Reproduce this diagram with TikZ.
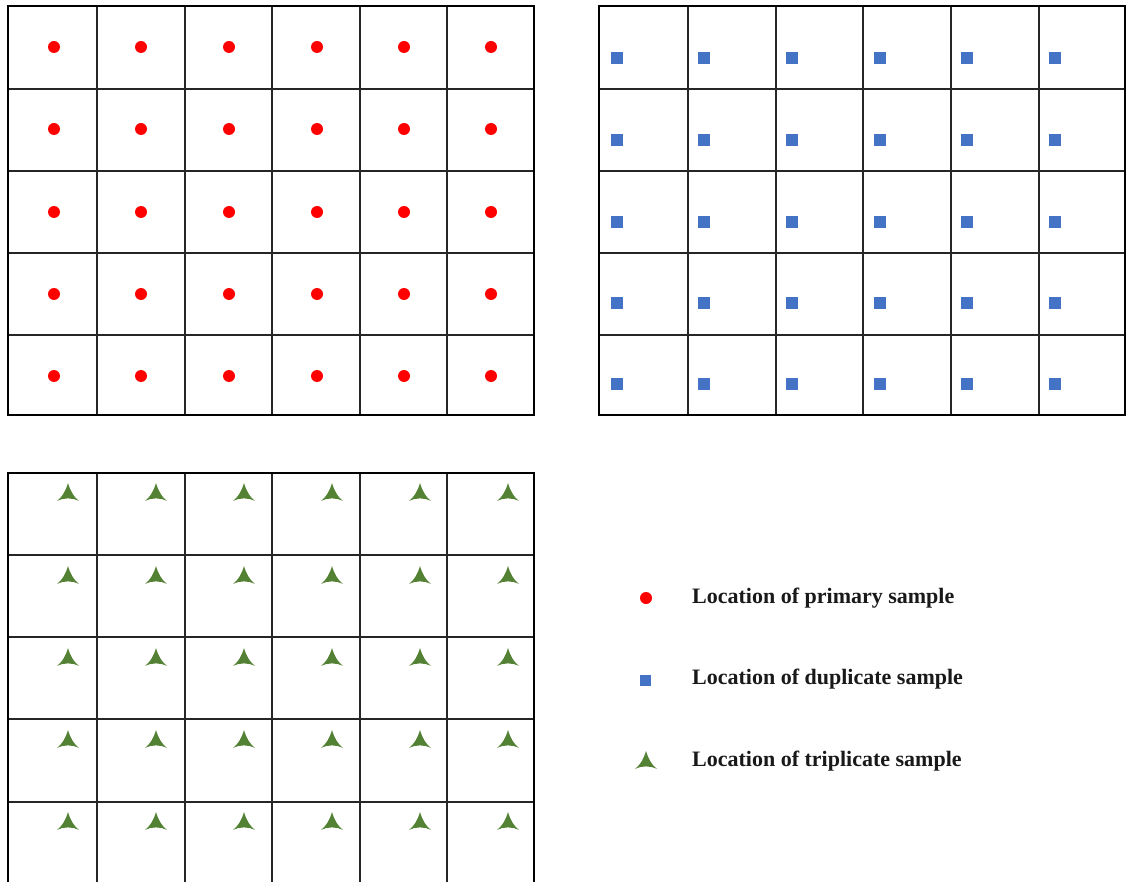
\documentclass[tikz,border=0pt]{standalone}
\usepackage{fontspec}
\setmainfont{Liberation Serif}
\definecolor{dotred}{RGB}{255,0,0}
\definecolor{sqblue}{RGB}{68,114,196}
\definecolor{trigreen}{RGB}{84,130,53}
\begin{document}
\begin{tikzpicture}[x=1pt,y=-1pt,
  inner/.style={line width=1.1pt,black!85},
  outer/.style={line width=2.4pt,black},
  primdot/.style={fill=dotred},
  dupsq/.style={fill=sqblue},
  tripstar/.style={fill=trigreen},
  legtext/.style={anchor=west,font=\bfseries\fontsize{22}{26}\selectfont,text=black!90,inner sep=0pt}]
\useasboundingbox (0,0) rectangle (1126,882);
\fill[white] (0,0) rectangle (1126,882);
% ---------- top-left grid ----------
\foreach \x in {97,185,272,360,447} \draw[inner] (\x,6) -- (\x,415);
\foreach \y in {89,171,253,335} \draw[inner] (8,\y) -- (534,\y);
\draw[outer] (8,6) rectangle (534,415);
\foreach \x in {54,141,229,317,404,491}
  \foreach \y in {47,129,212,294,376}
    \fill[primdot] (\x,\y) circle (6);
% ---------- top-right grid ----------
\foreach \x in {688,776,863,951,1039} \draw[inner] (\x,6) -- (\x,415);
\foreach \y in {89,171,253,335} \draw[inner] (599,\y) -- (1125,\y);
\draw[outer] (599,6) rectangle (1125,415);
\foreach \x in {617,704,792,880,967,1055}
  \foreach \y in {58,140,222,303,384}
    \fill[dupsq] (\x-6,\y-6) rectangle (\x+6,\y+6);
% ---------- bottom grid ----------
\foreach \x in {97,185,272,360,447} \draw[inner] (\x,473) -- (\x,882);
\foreach \y in {555,637,719,802} \draw[inner] (8,\y) -- (534,\y);
\draw[outer] (8,884) -- (8,473) -- (534,473) -- (534,884);
\foreach \x in {68,156,244,332,420,508}
  \foreach \y in {493,576,658,740,822}
    \fill[tripstar] (\x,\y-10) .. controls (\x+2.5,\y-2) and (\x+5,\y+3) .. (\x+11,\y+8)
      .. controls (\x+4,\y+4.5) and (\x-4,\y+4.5) .. (\x-11,\y+8)
      .. controls (\x-5,\y+3) and (\x-2.5,\y-2) .. (\x,\y-10) -- cycle;
% ---------- legend ----------
\fill[primdot] (646,598) circle (6);
\node[legtext] (lp) at (692,598) {Location of primary sample};
\fill[dupsq] (640,675) rectangle (651,686);
\node[legtext] (ld) at (692,679) {Location of duplicate sample};
\fill[tripstar] (646,751) .. controls (648.5,759) and (651,764) .. (657,769)
      .. controls (650,765.5) and (642,765.5) .. (635,769)
      .. controls (641,764) and (643.5,759) .. (646,751) -- cycle;
\node[legtext] (lt) at (692,761) {Location of triplicate sample};
\end{tikzpicture}
\end{document}
